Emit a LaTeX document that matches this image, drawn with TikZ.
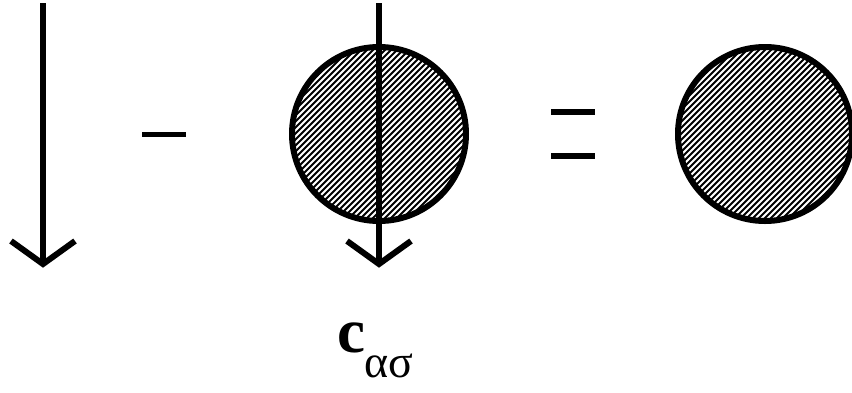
\documentclass[tikz,border=0pt]{standalone}
\usepackage{fontspec}
\setmainfont{Liberation Serif}
\begin{document}
\begin{tikzpicture}[x=1pt,y=-1pt,
  thickline/.style={line width=6pt},
  hatchdisc/.style={circle, draw, line width=6pt, minimum size=174pt, inner sep=0pt,
    path picture={
      \foreach \s in {-204,-198,...,204}
        \draw[line width=1.9pt] ([shift={(\s-110pt,-110pt)}]path picture bounding box.center)
              -- ([shift={(\s+110pt,110pt)}]path picture bounding box.center);
    }},
  barb/.style={line width=6pt, line join=miter}
]
\useasboundingbox (0,0) rectangle (852,392);

% left arrow
\coordinate (a1top) at (43,3);
\coordinate (a1tip) at (43,264);
\coordinate (a1l) at (11,241);
\coordinate (a1r) at (75,241);
\draw[thickline] (a1top) -- (a1tip);
\draw[barb] (a1l) -- (a1tip) -- (a1r);

% minus
\coordinate (m1) at (142,134);
\coordinate (m2) at (186,134);
\draw[line width=5pt] (m1) -- (m2);

% middle hatched circle with arrow
\node[hatchdisc] (c1) at (379,134) {};
\coordinate (a2top) at (379,3);
\coordinate (a2tip) at (379,264);
\coordinate (a2l) at (347,241);
\coordinate (a2r) at (411,241);
\draw[thickline] (a2top) -- (a2tip);
\draw[barb] (a2l) -- (a2tip) -- (a2r);

% equals
\coordinate (e1) at (551,112);
\coordinate (e2) at (595,112);
\coordinate (e3) at (551,156);
\coordinate (e4) at (595,156);
\draw[thickline] (e1) -- (e2);
\draw[thickline] (e3) -- (e4);

% right hatched circle
\node[hatchdisc] (c2) at (765,134) {};

% label
\node[anchor=base west, inner sep=0pt] (lbl) at (337,352)
  {\fontsize{63}{63}\selectfont\bfseries c\mdseries\kern-1pt\raisebox{-25pt}{\fontsize{46}{46}\selectfont ασ}};
\end{tikzpicture}
\end{document}
